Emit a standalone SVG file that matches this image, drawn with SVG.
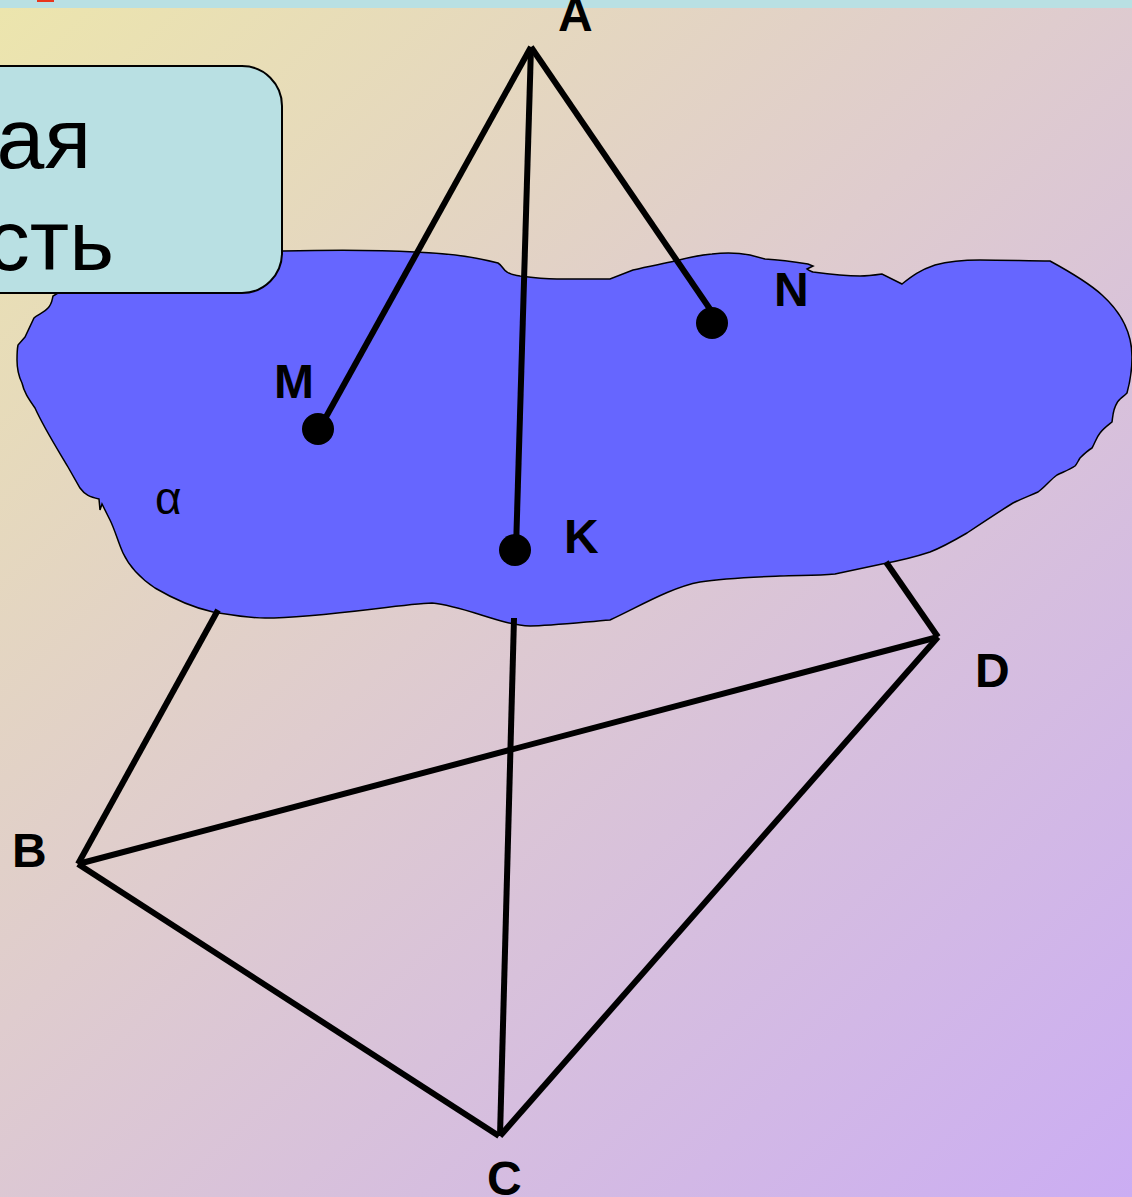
<svg xmlns="http://www.w3.org/2000/svg" width="1132" height="1197" viewBox="0 0 1132 1197">
<style>
.lbl{font-family:"Liberation Sans",Arial,sans-serif;font-weight:bold;font-size:48px;fill:#000}
.big{font-family:"Liberation Sans",Arial,sans-serif;font-size:86px;fill:#000;text-anchor:end}
.edge{stroke:#000;stroke-width:6;fill:none;stroke-linecap:butt}
</style>
<defs>
<linearGradient id="bg" gradientUnits="userSpaceOnUse" x1="0" y1="8" x2="1132" y2="1197">
<stop offset="0" stop-color="#ECE5AD"/>
<stop offset="0.45" stop-color="#DFCCCE"/>
<stop offset="1" stop-color="#CBADF3"/>
</linearGradient>
</defs>
<rect id="background" width="1132" height="1197" fill="url(#bg)"/>
<rect id="top-strip" width="1132" height="8" fill="#B9E0E3"/>
<rect id="red-mark" x="37" y="0" width="17" height="2" fill="#E8361C"/>
<g id="plane">
<path fill="#6666FF" stroke="#000" stroke-width="1.5" d="M58 293 L283 251 C330 250 380 250 415 252 C445 253 475 257 498 263 C503 266 503 270 507 272 C511 275 515 275 520 276 C535 278 545 279 557 279 L610 279 L633 270 C650 266 662 264 675 261 C690 257 700 255 712 254 C727 252 740 253 750 255 L765 259 C780 260 795 262 808 264 L813 266 L807 269 C809 271 811 271 813 272 C828 274 845 276 860 276 C868 276 875 275 882 274 L902 284 C912 276 920 270 935 265 C950 261 965 260 980 260 C1005 260 1030 261 1050 261 C1072 273 1090 284 1102 295 C1122 313 1132 335 1132 357 C1132 372 1130 382 1127 393 C1123 397 1118 400 1117 403 C1113 409 1113 415 1112 422 C1107 426 1103 429 1100 433 C1096 438 1095 443 1092 448 C1087 451 1084 454 1080 458 C1078 461 1077 464 1075 466 C1069 470 1063 472 1057 475 C1050 480 1045 487 1038 492 C1029 496 1021 499 1013 503 C997 513 982 523 967 533 C955 540 943 547 930 552 C915 557 898 561 882 564 L835 574 C815 576 797 575 780 576 C755 577 725 578 700 582 C672 587 640 606 610 620 C585 622 550 626 530 626 C500 625 465 606 432 603 C400 604 320 618 265 618 C248 618 232 615 213 612 C195 608 172 598 155 588 C140 578 130 568 123 553 C118 542 115 530 110 520 L102 504 L100 510 L99 499 C90 497 85 495 80 488 L68 467 C58 450 44 428 35 408 C28 398 24 392 22 383 C18 375 17 368 17 360 C17 355 17 350 18 345 L25 337 L34 318 C38 314 44 313 48 308 C52 304 52 300 53 296 Z"/>
</g>
<g id="title-box">
<rect x="-60" y="66" width="342" height="227" rx="40" ry="40" fill="#B9E0E3" stroke="#000" stroke-width="2"/>
<text class="big" x="91" y="168">ая</text>
<text class="big" x="114" y="270">сть</text>
</g>
<g id="connectors">
<line class="edge" x1="531" y1="47" x2="321" y2="426"/>
<line class="edge" x1="531" y1="47" x2="516" y2="549"/>
<line class="edge" x1="531" y1="47" x2="712" y2="312"/>
<line class="edge" x1="218" y1="610" x2="78" y2="864"/>
<line class="edge" x1="78" y1="864" x2="938" y2="637"/>
<line class="edge" x1="78" y1="864" x2="499" y2="1136"/>
<line class="edge" x1="514" y1="618" x2="500" y2="1136"/>
<line class="edge" x1="500" y1="1136" x2="938" y2="637"/>
<line class="edge" x1="938" y1="637" x2="886" y2="562"/>
</g>
<g id="point-M"><circle cx="318" cy="429" r="16"/><text class="lbl" x="274" y="398">M</text></g>
<g id="point-N"><circle cx="712" cy="323" r="16"/><text class="lbl" x="774" y="306">N</text></g>
<g id="point-K"><circle cx="515" cy="550" r="16"/><text class="lbl" x="564" y="553">K</text></g>
<g id="point-A"><text class="lbl" x="558" y="31">A</text></g>
<g id="point-B"><text class="lbl" x="12" y="867">B</text></g>
<g id="point-C"><text class="lbl" x="487" y="1195">C</text></g>
<g id="point-D"><text class="lbl" x="975" y="687">D</text></g>
<g id="label-alpha"><text x="155" y="514" style="font-family:'Liberation Sans',Arial,sans-serif;font-size:46px">α</text></g>
</svg>
